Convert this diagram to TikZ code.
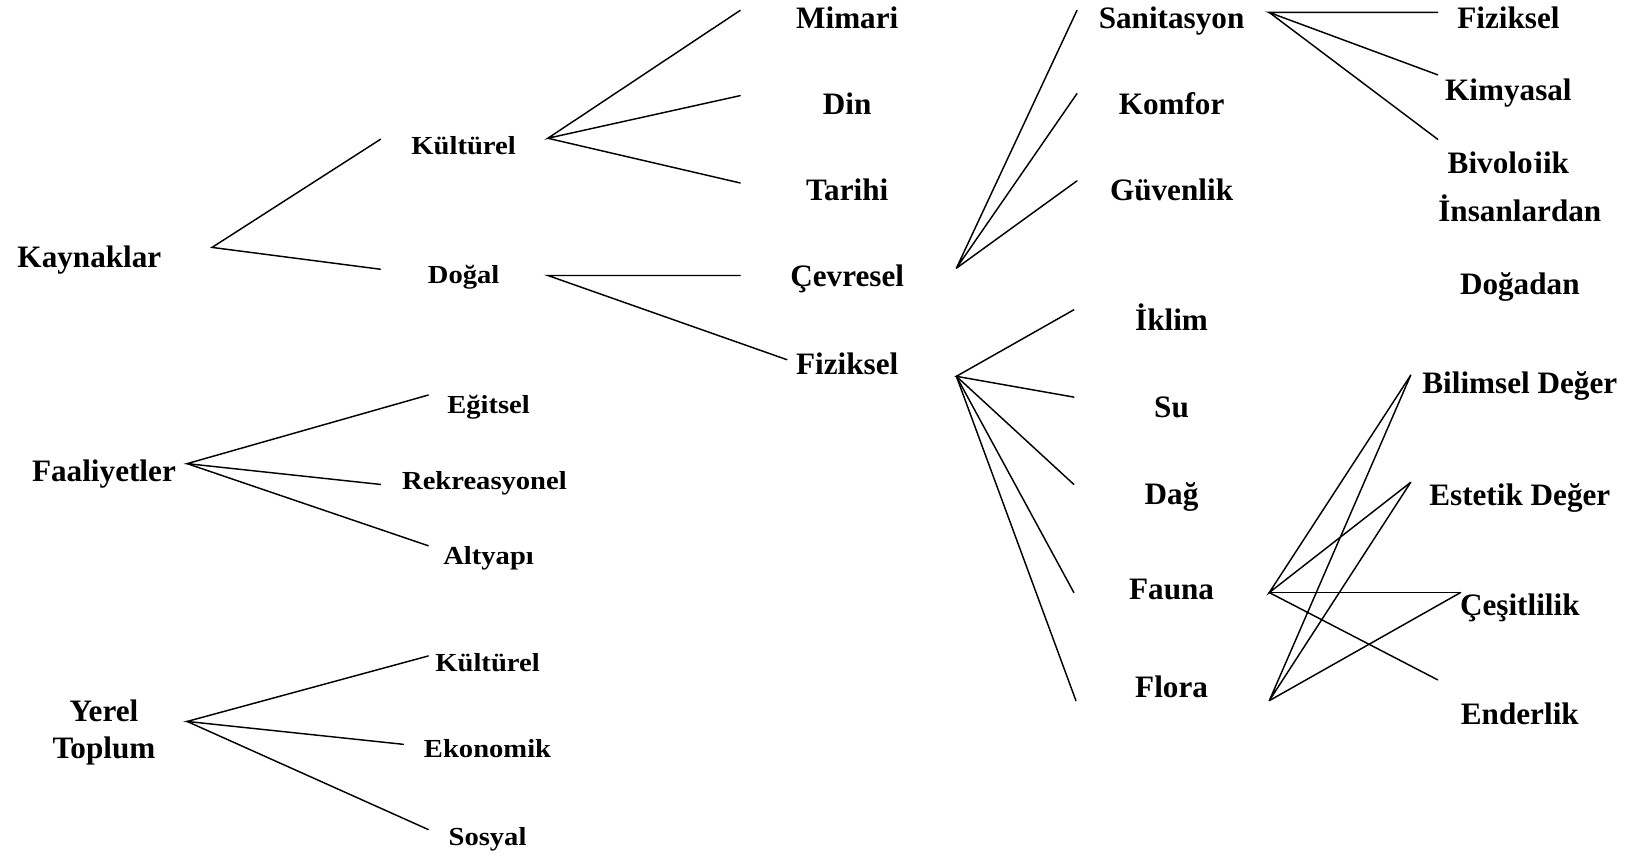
\documentclass[tikz,border=0pt]{standalone}
\usepackage{fontspec}
\setmainfont{Liberation Serif}
\newfontfamily\subfont[FakeStretch=1.1]{Liberation Serif}
\begin{document}
\begin{tikzpicture}[x=0.5pt,y=-0.5pt,
  big/.style={font=\fontsize{15}{17}\selectfont\bfseries, anchor=base, inner sep=0pt},
  small/.style={font=\subfont\fontsize{12.5}{14}\selectfont\bfseries, anchor=base, inner sep=0pt},
  link/.style={line width=0.7pt, line cap=round}]
\useasboundingbox (0,0) rectangle (1568,825);

% ---- first level ----
\node[big] (kaynak) at (86,257) {Kaynaklar};
\node[big] (faal) at (100,463) {Faaliyetler};
\node[big] (yerel) at (100,694) {Yerel};
\node[big] (toplum) at (100,730) {Toplum};

% ---- second level ----
\node[small] (kult) at (446,149) {Kültürel};
\node[small] (dogal) at (446,273) {Doğal};
\node[small] (egit) at (470,398) {Eğitsel};
\node[small] (rekr) at (466,471) {Rekreasyonel};
\node[small] (alty) at (470,543) {Altyapı};
\node[small] (kult2) at (469,646) {Kültürel};
\node[small] (ekon) at (469,729) {Ekonomik};
\node[small] (sosy) at (469,813) {Sosyal};

% ---- third level ----
\node[big] (mimari) at (815,27) {Mimari};
\node[big] (din) at (815,110) {Din};
\node[big] (tarihi) at (815,193) {Tarihi};
\node[big] (cevre) at (815,276) {Çevresel};
\node[big] (fizik) at (815,360) {Fiziksel};

% ---- fourth level ----
\node[big] (sanit) at (1127,27) {Sanitasyon};
\node[big] (komfor) at (1127,110) {Komfor};
\node[big] (guven) at (1127,193) {Güvenlik};
\node[big] (iklim) at (1127,318) {İklim};
\node[big] (su) at (1127,402) {Su};
\node[big] (dag) at (1127,485) {Dağ};
\node[big] (fauna) at (1127,577) {Fauna};
\node[big] (flora) at (1127,671) {Flora};

% ---- fifth level ----
\node[big] (fizik2) at (1451,27) {Fiziksel};
\node[big] (kimya) at (1451,97) {Kimyasal};
\begin{scope}
  \clip (1380,130) rectangle (1530,166);
  \node[big] (biyo) at (1451,167) {Bivolojik};
\end{scope}
\node[big] (insan) at (1462,213) {İnsanlardan};
\node[big] (dogadan) at (1462,283) {Doğadan};
\node[big] (bilim) at (1462,379) {Bilimsel Değer};
\node[big] (estetik) at (1462,486) {Estetik Değer};
\node[big] (cesit) at (1462,592) {Çeşitlilik};
\node[big] (ender) at (1462,697) {Enderlik};

% ---- connector ends ----
\coordinate (kaynak-o) at (204,238);
\coordinate (kult-i) at (366,134);
\coordinate (dogal-i) at (366,259);
\coordinate (kult-o) at (527,133);
\coordinate (dogal-o) at (527,265);
\coordinate (mimari-i) at (712,10);
\coordinate (din-i) at (712,92);
\coordinate (tarihi-i) at (712,176);
\coordinate (cevre-i) at (712,265);
\coordinate (fizik-i) at (757,346);
\coordinate (cevre-o) at (920,258);
\coordinate (fizik-o) at (920,362);
\coordinate (sanit-i) at (1036,10);
\coordinate (komfor-i) at (1036,90);
\coordinate (guven-i) at (1036,174);
\coordinate (iklim-i) at (1033,298);
\coordinate (su-i) at (1033,382);
\coordinate (dag-i) at (1033,466);
\coordinate (fauna-i) at (1033,570);
\coordinate (flora-i) at (1035,674);
\coordinate (sanit-o) at (1221,12);
\coordinate (fizik2-i) at (1383,12);
\coordinate (kimya-i) at (1383,72);
\coordinate (biyo-i) at (1383,134);
\coordinate (fauna-o) at (1221,570);
\coordinate (flora-o) at (1221,674);
\coordinate (bilim-i) at (1357,361);
\coordinate (estetik-i) at (1357,464);
\coordinate (cesit-i) at (1405,570);
\coordinate (ender-i) at (1383,654);
\coordinate (faal-o) at (180,446);
\coordinate (egit-i) at (412,380);
\coordinate (rekr-i) at (366,466);
\coordinate (alty-i) at (412,525);
\coordinate (yerel-o) at (180,694);
\coordinate (kult2-i) at (412,631);
\coordinate (ekon-i) at (388,716);
\coordinate (sosy-i) at (412,798);

% ---- connectors ----
\draw[link] (kult-i) -- (kaynak-o) -- (dogal-i);
\draw[link] (mimari-i) -- (kult-o) -- (din-i);
\draw[link] (kult-o) -- (tarihi-i);
\draw[link] (cevre-i) -- (dogal-o) -- (fizik-i);
\draw[link] (sanit-i) -- (cevre-o) -- (komfor-i);
\draw[link] (cevre-o) -- (guven-i);
\draw[link] (iklim-i) -- (fizik-o) -- (su-i);
\draw[link] (fizik-o) -- (dag-i);
\draw[link] (fizik-o) -- (fauna-i);
\draw[link] (fizik-o) -- (flora-i);
\draw[link] (fizik2-i) -- (sanit-o) -- (kimya-i);
\draw[link] (sanit-o) -- (biyo-i);
\draw[link] (bilim-i) -- (fauna-o) -- (estetik-i);
\draw[link] (fauna-o) -- (cesit-i);
\draw[link] (fauna-o) -- (ender-i);
\draw[link] (bilim-i) -- (flora-o) -- (estetik-i);
\draw[link] (flora-o) -- (cesit-i);
\draw[link] (egit-i) -- (faal-o) -- (rekr-i);
\draw[link] (faal-o) -- (alty-i);
\draw[link] (kult2-i) -- (yerel-o) -- (ekon-i);
\draw[link] (yerel-o) -- (sosy-i);
\end{tikzpicture}
\end{document}
